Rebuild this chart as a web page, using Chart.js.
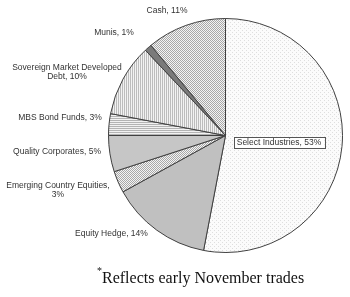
<!DOCTYPE html>
<html>
<head>
<meta charset="utf-8">
<script src="https://cdn.jsdelivr.net/npm/chart.js@4.4.0/dist/chart.umd.min.js"></script>
<style>
  html, body { margin: 0; padding: 0; background: #fff; }
  #wrap { position: relative; width: 350px; height: 297px; }
</style>
</head>
<body>
<div id="wrap"><canvas id="pieChart" width="350" height="297"></canvas></div>
<script>
// Allocation data (clockwise from 12 o'clock)
const categories = ['Select Industries', 'Equity Hedge', 'Emerging Country Equities', 'Quality Corporates',
    'MBS Bond Funds', 'Sovereign Market Developed Debt', 'Munis', 'Cash'];
const shares = [53, 14, 3, 5, 3, 10, 1, 11];
const footnote = 'Reflects early November trades';

// small tile patterns, like the old office fills
function makePattern(size, draw) {
    const c = document.createElement('canvas');
    c.width = size; c.height = size;
    const g = c.getContext('2d');
    draw(g);
    return document.getElementById('pieChart').getContext('2d').createPattern(c, 'repeat');
}
const dotsLight = makePattern(4, g => {
    g.fillStyle = '#fbfbfb'; g.fillRect(0, 0, 4, 4);
    g.fillStyle = '#dedede'; g.fillRect(0, 0, 1, 1); g.fillRect(2, 2, 1, 1);
});
const checker = makePattern(2, g => {
    g.fillStyle = '#f4f4f4'; g.fillRect(0, 0, 2, 2);
    g.fillStyle = '#a8a8a8'; g.fillRect(0, 0, 1, 1); g.fillRect(1, 1, 1, 1);
});
const hLines = makePattern(2, g => {
    g.fillStyle = '#f2f2f2'; g.fillRect(0, 0, 2, 2);
    g.fillStyle = '#b4b4b4'; g.fillRect(0, 0, 2, 1);
});
const vLines = makePattern(2, g => {
    g.fillStyle = '#f2f2f2'; g.fillRect(0, 0, 2, 2);
    g.fillStyle = '#bcbcbc'; g.fillRect(0, 0, 1, 2);
});
const fills = [dotsLight, '#c0c0c0', checker, '#c6c6c6', hLines, vLines, '#7a7a7a', checker];

// label placement, offsets from the pie centre
const labelSpots = [
    { lines: ['Select Industries, 53%'], dx: 53.5, dy: 7, box: true },
    { lines: ['Equity Hedge, 14%'], dx: -114, dy: 98.5 },
    { lines: ['Emerging Country Equities,', '3%'], dx: -167.5, dy: 50.5 },
    { lines: ['Quality Corporates, 5%'], dx: -168.5, dy: 16.5 },
    { lines: ['MBS Bond Funds, 3%'], dx: -165.5, dy: -17.5 },
    { lines: ['Sovereign Market Developed', 'Debt, 10%'], dx: -158.5, dy: -67.5 },
    { lines: ['Munis, 1%'], dx: -111.5, dy: -103 },
    { lines: ['Cash, 11%'], dx: -58.5, dy: -124.5 }
];

const labelPlugin = {
    id: 'sliceLabels',
    afterDraw(chart) {
        const ctx = chart.ctx;
        const arc = chart.getDatasetMeta(0).data[0];
        const cx = arc.x, cy = arc.y;
        ctx.save();
        ctx.font = '8.5px "Liberation Sans", Arial, sans-serif';
        ctx.textAlign = 'center';
        ctx.textBaseline = 'middle';
        labelSpots.forEach(s => {
            const x = cx + s.dx, y = cy + s.dy;
            if (s.box) {
                const w = ctx.measureText(s.lines[0]).width + 6;
                ctx.fillStyle = '#fff';
                ctx.fillRect(x - w / 2, y - 6, w, 12);
                ctx.strokeStyle = '#555';
                ctx.lineWidth = 1;
                ctx.strokeRect(Math.round(x - w / 2) + 0.5, Math.round(y - 6) + 0.5, Math.round(w), 11);
            }
            ctx.fillStyle = '#333';
            s.lines.forEach((t, i) => ctx.fillText(t, x, y + i * 9));
        });
        // footnote with superscript asterisk
        ctx.fillStyle = '#111';
        ctx.textAlign = 'left';
        ctx.textBaseline = 'alphabetic';
        ctx.font = '16px "Liberation Serif", "Times New Roman", serif';
        ctx.fillText(footnote, 102, 283);
        ctx.font = '10px "Liberation Serif", serif';
        ctx.fillText('*', 97, 274);
        ctx.restore();
    }
};

const ctx = document.getElementById('pieChart').getContext('2d');
const chart = new Chart(ctx, {
    type: 'pie',
    data: {
        labels: categories,
        datasets: [{
            data: shares,
            backgroundColor: fills,
            borderColor: '#404040',
            borderWidth: 1
        }]
    },
    options: {
        responsive: false,
        animation: false,
        events: [],
        layout: {
            padding: { left: 108, top: 18, right: 7, bottom: 44 }
        },
        plugins: {
            legend: { display: false },
            tooltip: { enabled: false }
        }
    },
    plugins: [labelPlugin]
});
</script>
</body>
</html>
